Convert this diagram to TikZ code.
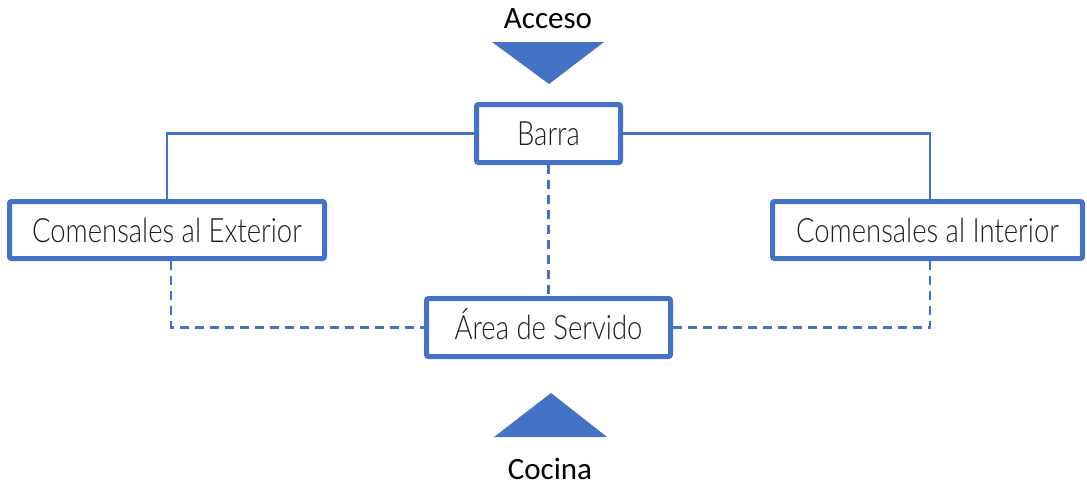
\documentclass[tikz,border=0pt]{standalone}
\usepackage{fontspec}
\setmainfont{Carlito}
\newfontfamily\boxfont[FakeStretch=0.82]{Lato Light}
\usepackage{tikz}
\usetikzlibrary{arrows.meta,positioning,calc}
\definecolor{accent}{HTML}{4472C4}
\definecolor{ink}{HTML}{1E1E1E}

\begin{document}
\begin{tikzpicture}[
  x=1pt, y=-1pt,
  box/.style={draw=accent, line width=5pt, rounded corners=2pt, inner sep=0pt, minimum height=58pt,
    text height=24pt, text depth=0pt, text=ink, font=\boxfont\fontsize{33.5}{38}\selectfont},
  link/.style={draw=accent, line width=2.2pt},
  dlink/.style={draw=accent, line width=2.5pt, dash pattern=on 9pt off 6pt},
  tri/.style={fill=accent},
  lbl/.style={anchor=base, text=black, font=\fontsize{31}{36}\selectfont}
]
  \useasboundingbox (0,0) rectangle (1087,488);

  \node[box, minimum width=144pt] (barra) at (548.5,133.5) {Barra};
  \node[box, minimum width=315pt, minimum height=57pt] (ext) at (167,230) {Comensales al Exterior};
  \node[box, minimum width=310pt, minimum height=57pt] (int) at (927.5,230) {Comensales al Interior};
  \node[box, minimum width=244pt] (area) at (548.5,327.5) {Área de Servido};

  \node[lbl] (acceso) at (548,28) {Acceso};
  \node[lbl] (cocina) at (550,479) {Cocina};

  \fill[tri] (492,42) -- (604,42) -- (549,84) -- cycle;
  \fill[tri] (494,437) -- (607,437) -- (551,393) -- cycle;

  \draw[link] (barra.west) -| (ext.north);
  \draw[link] (barra.east) -| ($(int.north)+(2.5,0)$);

  \draw[dlink] (barra.south) -- (area.north);
  \draw[dlink] ($(ext.south)+(4,0)$) |- (area.west);
  \draw[dlink] ($(int.south)+(2.5,0)$) |- (area.east);
\end{tikzpicture}
\end{document}
